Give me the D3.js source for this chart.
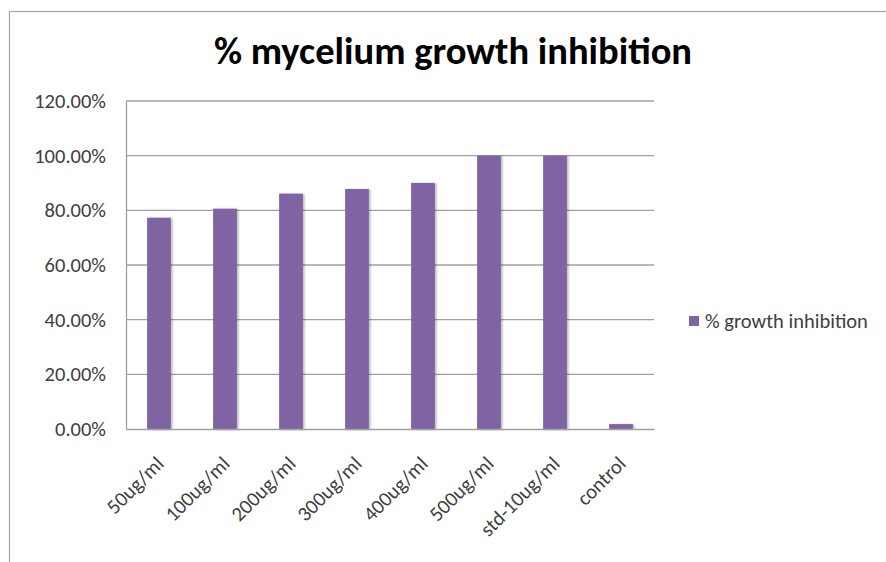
<!DOCTYPE html>
<html><head><meta charset="utf-8">
<script src="https://cdn.jsdelivr.net/npm/d3@7"></script>
<style>body{margin:0;background:#fff}svg{display:block}</style>
</head><body>
<svg id="c" width="886" height="562"></svg>
<script>
const categories = ["50ug/ml","100ug/ml","200ug/ml","300ug/ml","400ug/ml","500ug/ml","std-10ug/ml","control"];
const values = [0.773, 0.806, 0.861, 0.878, 0.900, 1.000, 1.000, 0.018];
const yTicks = [0, 0.2, 0.4, 0.6, 0.8, 1.0, 1.2];
const seriesName = "% growth inhibition";
const title = "% mycelium growth inhibition";

const svg = d3.select("#c");
const font = "Carlito, 'Liberation Sans', 'Open Sans', sans-serif";
const m = {left:126, right:654, top:101, bottom:429};

// outer chart border
svg.append("rect").attr("x",9.5).attr("y",11.5).attr("width",900).attr("height",600)
  .attr("fill","none").attr("stroke","#a6a6a6").attr("stroke-width",1.2);

const x = d3.scaleBand().domain(categories).range([m.left, m.right]).paddingInner(0.64).paddingOuter(0.32);
const y = d3.scaleLinear().domain([0,1.2]).range([m.bottom, m.top]);

// gridlines
svg.append("g").selectAll("line").data(yTicks.filter(d=>d>0)).join("line")
  .attr("x1",m.left).attr("x2",m.right).attr("y1",d=>y(d)).attr("y2",d=>y(d))
  .attr("stroke","#a0a0a0").attr("stroke-width",1.3);

// shadow filter
const defs = svg.append("defs");
const f = defs.append("filter").attr("id","sh").attr("x","-30%").attr("y","-10%").attr("width","160%").attr("height","120%");
f.append("feDropShadow").attr("dx",1.5).attr("dy",0.5).attr("stdDeviation",1.2).attr("flood-color","#000").attr("flood-opacity",0.3);

svg.append("g").selectAll("rect").data(values).join("rect")
  .attr("x",(d,i)=>x(categories[i])).attr("width",x.bandwidth())
  .attr("y",d=>y(d)).attr("height",d=>y(0)-y(d))
  .attr("fill","#8064a2").attr("filter","url(#sh)");

// axes
const ya = d3.axisLeft(y).tickValues(yTicks).tickFormat(d3.format(".2%")).tickSize(0).tickPadding(20);
const gy = svg.append("g").attr("transform",`translate(${m.left},0)`).call(ya);
gy.select(".domain").attr("stroke","#a0a0a0").attr("stroke-width",1.3);
gy.selectAll("text").attr("font-family",font).attr("font-size",20.5).attr("fill","#404040");

const xa = d3.axisBottom(x).tickSize(0).tickPadding(0);
const gx = svg.append("g").attr("transform",`translate(0,${m.bottom})`).call(xa);
gx.select(".domain").attr("stroke","#a0a0a0").attr("stroke-width",1.3);
gx.selectAll("text").attr("font-family",font).attr("font-size",20.5).attr("fill","#404040")
  .attr("text-anchor","end").attr("dy",0)
  .attr("transform","translate(6,36) rotate(-45)");

// title
svg.append("text").attr("x",453).attr("y",64).attr("text-anchor","middle")
  .attr("font-family",font).attr("font-weight","bold").attr("font-size",38.5).attr("fill","#000").text(title);

// legend
svg.append("rect").attr("x",689).attr("y",316).attr("width",10).attr("height",10).attr("fill","#8064a2");
svg.append("text").attr("x",705).attr("y",328).attr("font-family",font).attr("font-size",20.5).attr("fill","#404040").text(seriesName);
</script>
</body></html>
